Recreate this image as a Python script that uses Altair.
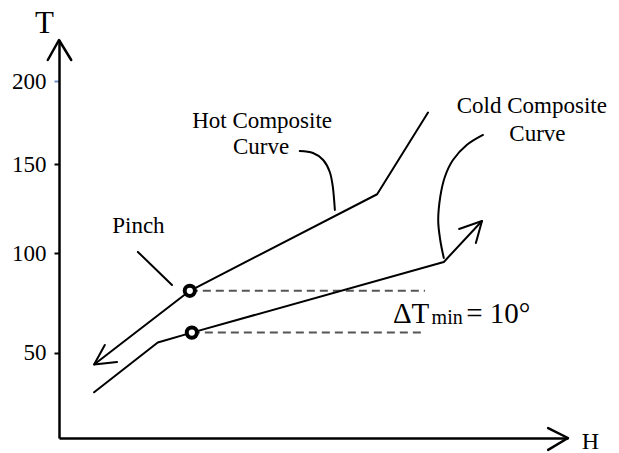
import altair as alt
import pandas as pd

# ---- data (H in arbitrary units 0..100, T in degrees) ----
hot_H = [6.9, 25.7, 62.5, 72.5]
hot_T = [44, 81, 133, 181]
cold_H = [6.9, 19.4, 26.1, 75.6, 83.1]
cold_T = [30, 55, 60, 95.5, 118]
hot_arrow_H = [9.0, 6.9, 11.4]
hot_arrow_T = [53.8, 44, 45.2]
cold_arrow_H = [78.6, 83.1, 81.9]
cold_arrow_T = [113.5, 118, 105.6]
pinch_H = [25.7, 26.1]
pinch_T = [81, 60]
dash_end_H = 71.9
pinch_leader_H = [15.5, 22.2]
pinch_leader_T = [100.6, 83.9]
hot_leader_H = [47.3, 49.9, 51.9, 53.2, 53.8, 54.2]
hot_leader_T = [157.8, 156.6, 152.4, 145.5, 137.1, 124.2]
cold_leader_H = [83.3, 80.1, 77.4, 75.8, 74.9, 74.5, 74.9, 75.6]
cold_leader_T = [167.5, 161.4, 152.4, 142.7, 131.5, 118.5, 107.3, 97.5]
y_arrow_H = [-2.2, 0, 2.4]
y_arrow_T = [212.8, 225, 212.8]
x_arrow_H = [96.1, 100, 96.1]
x_arrow_T = [12.0, 7, 1.0]
y_ticks = [50, 100, 150, 200]

label_text = ["Hot Composite", "Curve", "Cold Composite", "Curve", "Pinch"]
label_H = [39.9, 39.7, 92.9, 94.0, 15.6]
label_T = [171.7, 156.0, 180.7, 163.8, 111.2]

dt_text = ["ΔT", "min", "= 10°"]
dt_H = [65.6, 73.2, 80.0]
dt_T = [64.8, 64.4, 64.8]
dt_size = [29, 20, 29]


def rows(seg, hs, ts):
    return [{"seg": seg, "i": k, "H": h, "T": t} for k, (h, t) in enumerate(zip(hs, ts))]


lines_df = pd.DataFrame(
    rows("hot", hot_H, hot_T)
    + rows("cold", cold_H, cold_T)
    + rows("hot_arrow", hot_arrow_H, hot_arrow_T)
    + rows("cold_arrow", cold_arrow_H, cold_arrow_T)
    + rows("pinch_leader", pinch_leader_H, pinch_leader_T)
)
axis_arrows_df = pd.DataFrame(
    rows("y_arrow", y_arrow_H, y_arrow_T) + rows("x_arrow", x_arrow_H, x_arrow_T)
)
leaders_df = pd.DataFrame(
    rows("hot_leader", hot_leader_H, hot_leader_T)
    + rows("cold_leader", cold_leader_H, cold_leader_T)
)
dash_df = pd.DataFrame(
    [
        {"seg": f"d{k}", "i": j, "H": h, "T": pinch_T[k]}
        for k in range(2)
        for j, h in enumerate([pinch_H[k], dash_end_H])
    ]
)
pinch_df = pd.DataFrame({"H": pinch_H, "T": pinch_T})
labels_df = pd.DataFrame({"label": label_text, "H": label_H, "T": label_T})
dt_df = pd.DataFrame({"label": dt_text, "H": dt_H, "T": dt_T, "fs": dt_size})

FONT = "Liberation Serif"

x_scale = alt.Scale(domain=[0, 100], nice=False, zero=False)
y_scale = alt.Scale(
    domain=[7, 50, 100, 150, 200, 225],
    range=[398, 312.5, 213, 124, 41, 0],
    nice=False,
    zero=False,
)
x_axis = alt.Axis(
    title="H", labels=False, ticks=False, grid=False,
    domainColor="black", domainWidth=2.5,
    titleX=531, titleY=10, titleAlign="center", titleBaseline="alphabetic",
    titleFont=FONT, titleFontSize=24, titleFontWeight="normal", titleColor="black",
)
y_axis = alt.Axis(
    values=y_ticks, title="T", titleAngle=0, titleX=-15, titleY=-8,
    titleAlign="center", titleBaseline="alphabetic", titleFont=FONT,
    titleFontSize=31, titleFontWeight="normal", titleColor="black",
    labelFont=FONT, labelFontSize=23, labelColor="black", labelPadding=8,
    tickSize=5, tickWidth=2,
    tickColor={"condition": {"test": "datum.value === 200", "value": "#6f8fc4"}, "value": "black"},
    domainColor="black", domainWidth=2.5, grid=False,
)

X = alt.X("H:Q", scale=x_scale, axis=x_axis)
Y = alt.Y("T:Q", scale=y_scale, axis=y_axis)

main_lines = alt.Chart(lines_df).mark_line(
    color="black", strokeWidth=2, strokeCap="round", strokeJoin="round"
).encode(x=X, y=Y, detail="seg:N", order="i:Q")

axis_arrows = alt.Chart(axis_arrows_df).mark_line(
    color="black", strokeWidth=2.5, strokeCap="round", strokeJoin="round"
).encode(x=X, y=Y, detail="seg:N", order="i:Q")

leaders = alt.Chart(leaders_df).mark_line(
    color="black", strokeWidth=2, interpolate="cardinal", strokeCap="round"
).encode(x=X, y=Y, detail="seg:N", order="i:Q")

dashes = alt.Chart(dash_df).mark_line(
    color="#555555", strokeWidth=2, strokeDash=[8, 5]
).encode(x=X, y=Y, detail="seg:N", order="i:Q")

pinch_pts = alt.Chart(pinch_df).mark_point(
    shape="circle", filled=True, fill="white", stroke="black",
    strokeWidth=4, size=105, opacity=1,
).encode(x=X, y=Y)

labels = alt.Chart(labels_df).mark_text(
    font=FONT, fontSize=23, align="center", baseline="alphabetic", color="black"
).encode(x=X, y=Y, text="label:N")

dt_labels = alt.Chart(dt_df).mark_text(
    font=FONT, align="left", baseline="alphabetic", color="black"
).encode(x=X, y=Y, text="label:N", size=alt.Size("fs:Q", scale=None))

chart = (
    alt.layer(dashes, main_lines, axis_arrows, leaders, pinch_pts, labels, dt_labels)
    .properties(
        width=509, height=398, autosize="none",
        padding={"left": 51, "top": 32, "right": 43, "bottom": 20},
    )
    .configure_view(stroke=None)
)

chart.save("out.html", embed_options={"renderer": "svg", "actions": False})
